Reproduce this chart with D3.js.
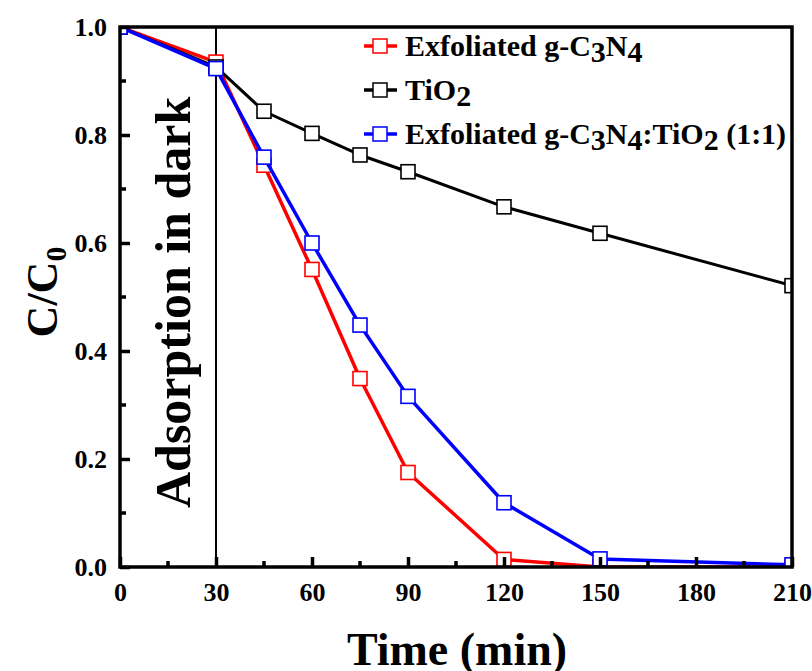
<!DOCTYPE html>
<html>
<head>
<meta charset="utf-8">
<script src="https://cdn.jsdelivr.net/npm/d3@7"></script>
<style>
  body { margin: 0; background: #fff; }
  text { font-family: "Liberation Serif", "Times New Roman", serif; font-weight: bold; }
</style>
</head>
<body>
<svg id="chart" width="812" height="671"></svg>
<script>
// time points (min)
const times = [0, 30, 45, 60, 75, 90, 120, 150, 210];

// C/C0 values
const gc3n4 = [1.0, 0.935, 0.744, 0.551, 0.349, 0.175, 0.014, 0.0, 0.0];
const tio2 = [1.0, 0.926, 0.844, 0.803, 0.763, 0.732, 0.667, 0.618, 0.521];
const composite = [1.0, 0.923, 0.759, 0.6, 0.448, 0.316, 0.119, 0.015, 0.004];

const xTicks = [0, 30, 60, 90, 120, 150, 180, 210];
const yTicks = [0.0, 0.2, 0.4, 0.6, 0.8, 1.0];

const series = [
  { name: "gc3n4", values: gc3n4, color: "#ff0000", width: 3.5 },
  { name: "tio2", values: tio2, color: "#000000", width: 3 },
  { name: "composite", values: composite, color: "#0000ff", width: 3.5 }
];

const svg = d3.select("#chart");
const margin = { top: 27, right: 20, bottom: 104, left: 120 };
const width = +svg.attr("width"), height = +svg.attr("height");
const innerWidth = 792 - margin.left;
const innerHeight = height - margin.top - margin.bottom;

const x = d3.scaleLinear().domain([0, 210]).range([0, innerWidth]);
const y = d3.scaleLinear().domain([0, 1]).range([innerHeight, 0]);

const g = svg.append("g").attr("transform", `translate(${margin.left},${margin.top})`);

g.append("clipPath").attr("id", "plot-clip")
  .append("rect").attr("width", innerWidth).attr("height", innerHeight);

// dark adsorption marker line
g.append("line")
  .attr("x1", x(30)).attr("x2", x(30))
  .attr("y1", 0).attr("y2", innerHeight)
  .attr("stroke", "#000").attr("stroke-width", 2);

g.append("text")
  .attr("transform", `translate(${x(30) - 26},${y(0.49)}) rotate(-90)`)
  .attr("text-anchor", "middle")
  .style("font-size", "50px")
  .text("Adsorption in dark");

// series
const plot = g.append("g").attr("clip-path", "url(#plot-clip)");
const line = d3.line().x(d => x(d[0])).y(d => y(d[1]));

series.forEach(s => {
  const pts = times.map((t, i) => [t, s.values[i]]);
  plot.append("path")
    .datum(pts)
    .attr("fill", "none")
    .attr("stroke", s.color)
    .attr("stroke-width", s.width)
    .attr("stroke-linejoin", "round")
    .attr("d", line);
  plot.selectAll(null)
    .data(pts)
    .enter().append("rect")
    .attr("x", d => x(d[0]) - 7)
    .attr("y", d => y(d[1]) - 7)
    .attr("width", 14).attr("height", 14)
    .attr("fill", "#fff")
    .attr("stroke", s.color)
    .attr("stroke-width", 1.6);
});

// axes (ticks inside)
const xAxis = g.append("g").attr("transform", `translate(0,${innerHeight})`)
  .call(d3.axisBottom(x).tickValues(xTicks).tickSize(-10).tickPadding(20).tickSizeOuter(0));
const yAxis = g.append("g")
  .call(d3.axisLeft(y).tickValues(yTicks).tickSize(-10).tickPadding(20).tickFormat(d3.format(".1f")).tickSizeOuter(0));

[xAxis, yAxis].forEach(ax => {
  ax.select(".domain").remove();
  ax.selectAll("line").attr("stroke", "#000").attr("stroke-width", 3.5);
  ax.selectAll("text").style("font-size", "26px").attr("fill", "#000");
});
xAxis.selectAll("text").attr("dy", "0.71em").attr("y", 16);
yAxis.selectAll("text").attr("x", -13);

// minor ticks
const xMinor = d3.range(15, 210, 30);
const yMinor = d3.range(0.1, 1.0, 0.2);
g.selectAll(null).data(xMinor).enter().append("line")
  .attr("x1", d => x(d)).attr("x2", d => x(d))
  .attr("y1", innerHeight).attr("y2", innerHeight - 6)
  .attr("stroke", "#000").attr("stroke-width", 3.5);
g.selectAll(null).data(yMinor).enter().append("line")
  .attr("x1", 0).attr("x2", 6)
  .attr("y1", d => y(d)).attr("y2", d => y(d))
  .attr("stroke", "#000").attr("stroke-width", 3.5);

// frame
g.append("rect")
  .attr("width", innerWidth).attr("height", innerHeight)
  .attr("fill", "none").attr("stroke", "#000").attr("stroke-width", 3.5);

// axis titles
svg.append("text")
  .attr("x", 457).attr("y", 665)
  .attr("text-anchor", "middle")
  .style("font-size", "46px")
  .text("Time (min)");

const yTitle = svg.append("text")
  .attr("transform", `translate(57,${margin.top + innerHeight / 2 - 5}) rotate(-90)`)
  .attr("text-anchor", "middle")
  .style("font-size", "44px");
yTitle.append("tspan").text("C/C");
yTitle.append("tspan").attr("dy", 9).style("font-size", "30px").text("0");

// legend
const legendItems = [
  { color: "#ff0000", parts: [["Exfoliated g-C", 0], ["3", 1], ["N", 0], ["4", 1]] },
  { color: "#000000", parts: [["TiO", 0], ["2", 1]] },
  { color: "#0000ff", parts: [["Exfoliated g-C", 0], ["3", 1], ["N", 0], ["4", 1], [":TiO", 0], ["2", 1], [" (1:1)", 0]] }
];
const legendY = [46, 90, 134];
legendItems.forEach((item, i) => {
  const ly = legendY[i];
  svg.append("line")
    .attr("x1", 364).attr("x2", 397).attr("y1", ly).attr("y2", ly)
    .attr("stroke", item.color).attr("stroke-width", 3.5);
  svg.append("rect")
    .attr("x", 373).attr("y", ly - 7).attr("width", 14).attr("height", 14)
    .attr("fill", "#fff").attr("stroke", item.color).attr("stroke-width", 1.5);
  const t = svg.append("text")
    .attr("x", 405).attr("y", ly + 10)
    .style("font-size", "30px");
  let shifted = false;
  item.parts.forEach(([str, sub]) => {
    const ts = t.append("tspan").text(str);
    if (sub && !shifted) { ts.attr("dy", 6); shifted = true; }
    else if (!sub && shifted) { ts.attr("dy", -6); shifted = false; }
  });
});
</script>
</body>
</html>
